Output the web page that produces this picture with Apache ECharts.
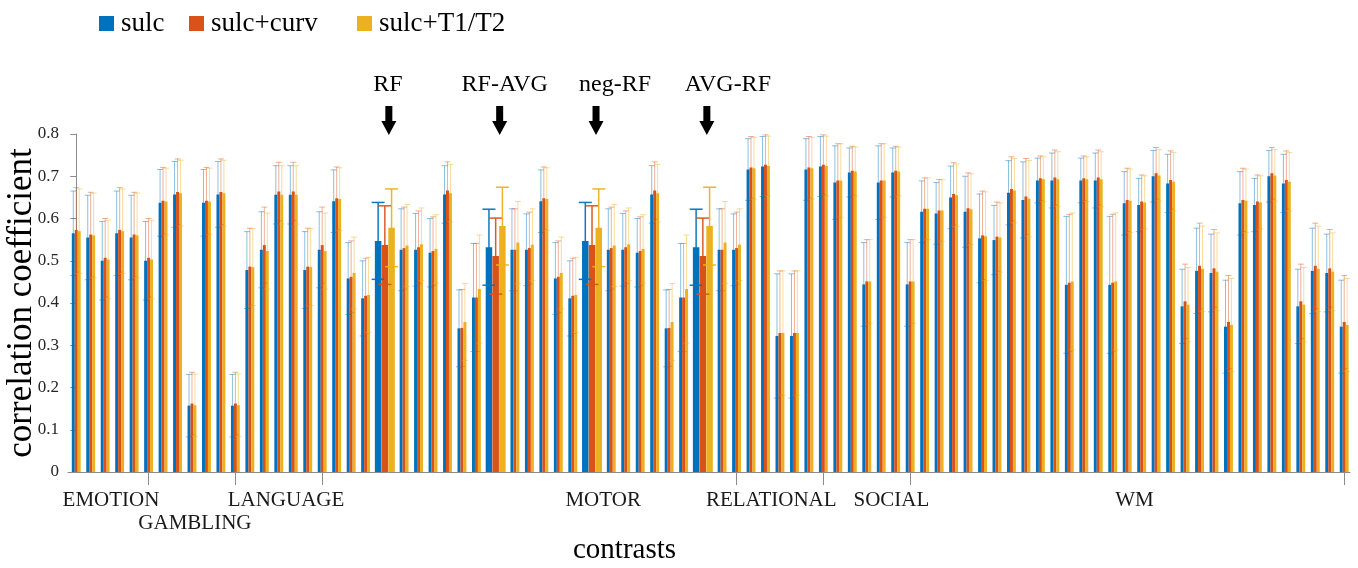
<!DOCTYPE html>
<html>
<head>
<meta charset="utf-8">
<title>Correlation coefficient per contrast</title>
<script src="https://cdn.jsdelivr.net/npm/echarts@6/dist/echarts.min.js"></script>
<style>
  html, body { margin: 0; padding: 0; background: #ffffff; }
  #chart { width: 1358px; height: 568px; }
</style>
</head>
<body>
<div id="chart"></div>
<script>
// ---- data -------------------------------------------------------------
const tasks = ['EMOTION', 'GAMBLING', 'LANGUAGE', 'MOTOR', 'RELATIONAL', 'SOCIAL', 'WM'];
const taskSizes = [6, 6, 6, 26, 6, 6, 30];

const seriesNames = ['sulc', 'sulc+curv', 'sulc+T1/T2'];

// contrasts singled out with an arrow (1-based contrast number)
const highlightAt = [22, 29, 35, 42];
const highlightLabels = ['RF', 'RF-AVG', 'neg-RF', 'AVG-RF'];

const yTicks = [0, 0.1, 0.2, 0.3, 0.4, 0.5, 0.6, 0.7, 0.8];

const sulc = [
  0.565, 0.555, 0.500, 0.565, 0.555, 0.500,
  0.637, 0.657, 0.157, 0.637, 0.657, 0.157,
  0.478, 0.526, 0.656, 0.656, 0.478, 0.526,
  0.641, 0.458, 0.411, 0.547, 0.526, 0.526, 0.519, 0.657, 0.340, 0.413, 0.532, 0.526, 0.526,
  0.641, 0.458, 0.411, 0.547, 0.526, 0.526, 0.519, 0.657, 0.340, 0.413, 0.532, 0.526, 0.526,
  0.716, 0.723, 0.322, 0.322, 0.716, 0.723,
  0.685, 0.709, 0.444, 0.685, 0.709, 0.444,
  0.616, 0.612, 0.650, 0.616, 0.553, 0.549, 0.661, 0.644, 0.690, 0.690, 0.443, 0.690, 0.690, 0.443,
  0.636, 0.632, 0.700, 0.683, 0.392, 0.476, 0.471, 0.344,
  0.636, 0.632, 0.700, 0.683, 0.392, 0.476, 0.471, 0.344
];
const sulcCurv = [
  0.573, 0.562, 0.507, 0.573, 0.562, 0.507,
  0.642, 0.663, 0.162, 0.642, 0.663, 0.162,
  0.486, 0.537, 0.664, 0.664, 0.486, 0.537,
  0.648, 0.462, 0.417, 0.537, 0.530, 0.532, 0.523, 0.666, 0.341, 0.413, 0.511, 0.526, 0.530,
  0.648, 0.462, 0.417, 0.537, 0.530, 0.532, 0.523, 0.666, 0.341, 0.413, 0.511, 0.526, 0.530,
  0.721, 0.727, 0.329, 0.329, 0.721, 0.727,
  0.690, 0.713, 0.451, 0.690, 0.713, 0.451,
  0.623, 0.619, 0.658, 0.624, 0.560, 0.557, 0.670, 0.652, 0.695, 0.697, 0.448, 0.695, 0.697, 0.448,
  0.644, 0.640, 0.707, 0.691, 0.404, 0.488, 0.482, 0.355,
  0.644, 0.640, 0.707, 0.691, 0.404, 0.488, 0.482, 0.355
];
const sulcT1T2 = [
  0.570, 0.560, 0.503, 0.570, 0.560, 0.503,
  0.640, 0.660, 0.158, 0.640, 0.660, 0.158,
  0.485, 0.523, 0.656, 0.656, 0.485, 0.523,
  0.646, 0.471, 0.419, 0.578, 0.536, 0.539, 0.528, 0.660, 0.355, 0.433, 0.582, 0.543, 0.538,
  0.646, 0.471, 0.419, 0.578, 0.536, 0.539, 0.528, 0.660, 0.355, 0.433, 0.582, 0.543, 0.538,
  0.719, 0.724, 0.329, 0.329, 0.719, 0.724,
  0.690, 0.711, 0.451, 0.690, 0.711, 0.451,
  0.623, 0.619, 0.655, 0.622, 0.558, 0.555, 0.666, 0.647, 0.693, 0.693, 0.451, 0.693, 0.693, 0.451,
  0.642, 0.638, 0.702, 0.687, 0.396, 0.481, 0.474, 0.348,
  0.642, 0.638, 0.702, 0.687, 0.396, 0.481, 0.474, 0.348
];

// half-length of each error bar (one standard deviation)
const errSulc = [
  0.100, 0.100, 0.093, 0.100, 0.100, 0.093,
  0.079, 0.078, 0.074, 0.079, 0.078, 0.074,
  0.091, 0.090, 0.069, 0.069, 0.091, 0.090,
  0.074, 0.085, 0.089, 0.091, 0.097, 0.086, 0.081, 0.068, 0.091, 0.128, 0.090, 0.097, 0.085,
  0.074, 0.085, 0.089, 0.091, 0.097, 0.086, 0.081, 0.068, 0.091, 0.128, 0.090, 0.097, 0.085,
  0.073, 0.071, 0.147, 0.147, 0.073, 0.071,
  0.087, 0.058, 0.099, 0.087, 0.058, 0.099,
  0.073, 0.073, 0.074, 0.084, 0.105, 0.082, 0.076, 0.090, 0.053, 0.065, 0.162, 0.053, 0.065, 0.162,
  0.075, 0.063, 0.061, 0.069, 0.088, 0.101, 0.092, 0.110,
  0.075, 0.063, 0.061, 0.069, 0.088, 0.101, 0.092, 0.110
];
const errCurv = [
  0.100, 0.100, 0.093, 0.100, 0.100, 0.093,
  0.079, 0.078, 0.074, 0.079, 0.078, 0.074,
  0.091, 0.090, 0.069, 0.069, 0.091, 0.090,
  0.074, 0.085, 0.089, 0.093, 0.097, 0.086, 0.081, 0.068, 0.091, 0.128, 0.090, 0.097, 0.085,
  0.074, 0.085, 0.089, 0.093, 0.097, 0.086, 0.081, 0.068, 0.091, 0.128, 0.090, 0.097, 0.085,
  0.073, 0.071, 0.147, 0.147, 0.073, 0.071,
  0.087, 0.058, 0.099, 0.087, 0.058, 0.099,
  0.073, 0.073, 0.074, 0.084, 0.105, 0.082, 0.076, 0.090, 0.053, 0.065, 0.162, 0.053, 0.065, 0.162,
  0.075, 0.063, 0.061, 0.069, 0.088, 0.101, 0.092, 0.110,
  0.075, 0.063, 0.061, 0.069, 0.088, 0.101, 0.092, 0.110
];
const errT1T2 = [
  0.100, 0.100, 0.093, 0.100, 0.100, 0.093,
  0.079, 0.078, 0.074, 0.079, 0.078, 0.074,
  0.091, 0.090, 0.069, 0.069, 0.091, 0.090,
  0.074, 0.085, 0.089, 0.092, 0.097, 0.086, 0.081, 0.068, 0.091, 0.128, 0.092, 0.097, 0.085,
  0.074, 0.085, 0.089, 0.092, 0.097, 0.086, 0.081, 0.068, 0.091, 0.128, 0.092, 0.097, 0.085,
  0.073, 0.071, 0.147, 0.147, 0.073, 0.071,
  0.087, 0.058, 0.099, 0.087, 0.058, 0.099,
  0.073, 0.073, 0.074, 0.084, 0.105, 0.082, 0.076, 0.090, 0.053, 0.065, 0.162, 0.053, 0.065, 0.162,
  0.075, 0.063, 0.061, 0.069, 0.088, 0.101, 0.092, 0.110,
  0.075, 0.063, 0.061, 0.069, 0.088, 0.101, 0.092, 0.110
];

// ---- layout & style ---------------------------------------------------
const COLORS = ['#0072BD', '#D95319', '#EDB120'];
const SERIF = '"Liberation Serif", "Times New Roman", serif';
const WIDE_STEP = 1.33;           // spacing (in slots) around a highlighted group
const NORMAL_BAR = 0.205;         // bar width in slots
const WIDE_BAR = 0.45;
const WIDE_PITCH = 0.465;
const TASK_LABEL_SHIFT = [-0.1, -0.3, 0, 4.6, -1.1, 1.2, 0];
const TASK_LABEL_ROW = [0, 1, 0, 0, 0, 0, 0];
const ARROW_DX = 4;
const ARROW_LABEL_DX = [-1, 5, 19, 21];
const LEGEND_LEFT = [94, 184, 352];

const N = sulc.length;
const isWide = new Array(N).fill(false);
highlightAt.forEach(k => { isWide[k - 1] = true; });

// slot position of every contrast along the x axis
const pos = [];
for (let i = 0, p = 0; i < N; i++) {
  if (i > 0) p += (isWide[i] || isWide[i - 1]) ? WIDE_STEP : 1;
  pos.push(p);
}

// task boundaries (tick on the last contrast of each task) and label anchors
const taskTicks = [];
const taskLabelPos = [];
let start = 0;
taskSizes.forEach((n, t) => {
  const end = start + n - 1;
  taskTicks.push(pos[end]);
  taskLabelPos.push((pos[start] + pos[end]) / 2 + TASK_LABEL_SHIFT[t]);
  start += n;
});

const values = [sulc, sulcCurv, sulcT1T2];
const errors = [errSulc, errCurv, errT1T2];

function seriesData(k) {
  return values[k].map((v, i) => [pos[i], v, errors[k][i], isWide[i] ? 1 : 0]);
}

function barRenderer(k) {
  return function (params, api) {
    const x = api.value(0), v = api.value(1), wide = api.value(3) === 1;
    const unit = api.size([1, 0])[0];
    const bw = (wide ? WIDE_BAR : NORMAL_BAR) * unit;
    const pitch = (wide ? WIDE_PITCH : NORMAL_BAR) * unit;
    const c = api.coord([x, v]);
    const base = api.coord([x, 0])[1];
    const cx = c[0] + (k - 1) * pitch;
    return {
      type: 'rect',
      shape: { x: cx - bw / 2, y: c[1], width: bw, height: base - c[1] },
      style: { fill: COLORS[k] }
    };
  };
}

function errRenderer(k) {
  return function (params, api) {
    const x = api.value(0), v = api.value(1), e = api.value(2), wide = api.value(3) === 1;
    const unit = api.size([1, 0])[0];
    const pitch = (wide ? WIDE_PITCH : NORMAL_BAR) * unit;
    const cx = api.coord([x, v])[0] + (k - 1) * pitch;
    const hi = api.coord([x, v + e])[1];
    const lo = api.coord([x, v - e])[1];
    const cap = wide ? 6.5 : 3;
    const st = {
      stroke: COLORS[k],
      lineWidth: wide ? 1.5 : 1,
      opacity: wide ? 0.95 : 0.45
    };
    return {
      type: 'group',
      children: [
        { type: 'line', shape: { x1: cx, y1: hi, x2: cx, y2: lo }, style: st },
        { type: 'line', shape: { x1: cx - cap, y1: hi, x2: cx + cap, y2: hi }, style: st },
        { type: 'line', shape: { x1: cx - cap, y1: lo, x2: cx + cap, y2: lo }, style: st }
      ]
    };
  };
}

function arrowRenderer(params, api) {
  const c = api.coord([api.value(0), api.value(1)]);
  const j = api.value(2);
  const x = c[0] + ARROW_DX;
  const tip = c[1] + 1;
  return {
    type: 'group',
    children: [
      {
        type: 'polygon',
        shape: {
          points: [
            [x - 3.5, tip - 29], [x + 3.5, tip - 29], [x + 3.5, tip - 14],
            [x + 7.5, tip - 14], [x, tip], [x - 7.5, tip - 14], [x - 3.5, tip - 14]
          ]
        },
        style: { fill: '#000000' }
      },
      {
        type: 'text',
        x: x + ARROW_LABEL_DX[j],
        y: tip - 50,
        style: {
          text: highlightLabels[j],
          fontFamily: SERIF,
          fontSize: 24,
          fill: '#000000',
          align: 'center',
          verticalAlign: 'middle'
        }
      }
    ]
  };
}

// task names under the x axis, GAMBLING on a second row
function taskLabelRenderer(params, api) {
  const t = api.value(2);
  const c = api.coord([api.value(0), api.value(1)]);
  return {
    type: 'text',
    x: c[0],
    y: c[1] + 28 + TASK_LABEL_ROW[t] * 23,
    style: {
      text: tasks[t],
      fontFamily: SERIF,
      fontSize: 21,
      fill: '#1a1a1a',
      align: 'center',
      verticalAlign: 'middle'
    }
  };
}

const series = [];
for (let k = 0; k < 3; k++) {
  series.push({
    name: seriesNames[k],
    type: 'custom',
    renderItem: barRenderer(k),
    data: seriesData(k),
    itemStyle: { color: COLORS[k] },
    encode: { x: 0, y: 1 },
    z: 2,
    silent: true
  });
}
for (let k = 0; k < 3; k++) {
  series.push({
    name: seriesNames[k],
    type: 'custom',
    renderItem: errRenderer(k),
    data: seriesData(k),
    itemStyle: { color: COLORS[k] },
    encode: { x: 0, y: 1 },
    z: 3,
    silent: true
  });
}
series.push({
  type: 'custom',
  renderItem: arrowRenderer,
  data: highlightAt.map((k, j) => [pos[k - 1], yTicks[yTicks.length - 1], j]),
  encode: { x: 0, y: 1 },
  clip: false,
  z: 4,
  silent: true
});
series.push({
  type: 'custom',
  renderItem: taskLabelRenderer,
  data: taskLabelPos.map((p, t) => [p, yTicks[0], t]),
  encode: { x: 0, y: 1 },
  clip: false,
  z: 4,
  silent: true
});

const chart = echarts.init(document.getElementById('chart'));
chart.setOption({
  animation: false,
  backgroundColor: '#ffffff',
  legend: seriesNames.map((name, k) => ({
    left: LEGEND_LEFT[k],
    top: 5,
    icon: 'rect',
    itemWidth: 15,
    itemHeight: 15,
    data: [name],
    textStyle: { fontFamily: SERIF, fontSize: 27, color: '#000000', padding: [0, 0, 0, 2] },
    selectedMode: false
  })),
  grid: {
    left: 68,
    right: 8,
    top: 134,
    bottom: 96,
    containLabel: false,
    outerBoundsMode: 'none'
  },
  xAxis: {
    type: 'value',
    min: pos[0] - 0.57,
    max: pos[N - 1] + 0.4,
    splitLine: { show: false },
    axisLine: { show: true, onZero: false, lineStyle: { color: '#8c8c8c', width: 1 } },
    axisTick: {
      show: true,
      inside: false,
      length: 13,
      customValues: taskTicks,
      lineStyle: { color: '#8c8c8c' }
    },
    axisLabel: { show: false }
  },
  yAxis: {
    type: 'value',
    min: yTicks[0],
    max: yTicks[yTicks.length - 1],
    interval: 0.1,
    name: 'correlation coefficient',
    nameLocation: 'middle',
    nameGap: 29,
    nameMoveOverlap: false,
    nameRotate: 90,
    nameTextStyle: { fontFamily: SERIF, fontSize: 35, color: '#000000' },
    splitLine: { show: false },
    axisLine: { show: true, lineStyle: { color: '#8c8c8c', width: 1 } },
    axisTick: { show: true, inside: false, length: 6, lineStyle: { color: '#8c8c8c' } },
    axisLabel: {
      margin: 9,
      fontFamily: SERIF,
      fontSize: 17,
      color: '#262626',
      formatter: v => (v === 0 ? '0' : v.toFixed(1))
    }
  },
  graphic: [{
    type: 'text',
    left: 573,
    top: 536,
    style: { text: 'contrasts', fontFamily: SERIF, fontSize: 29, fill: '#000000' }
  }],
  series: series
});
</script>
</body>
</html>
